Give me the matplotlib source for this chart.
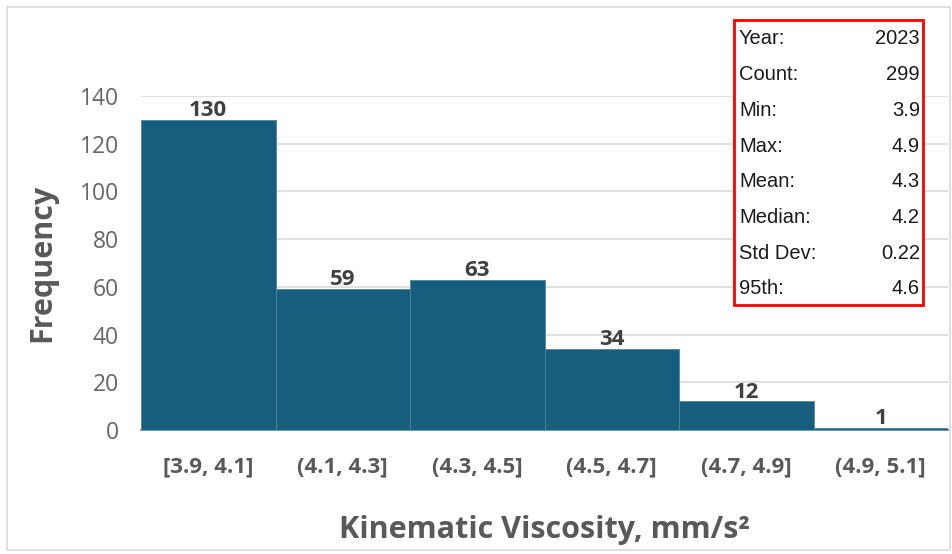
import matplotlib.pyplot as plt
from matplotlib.patches import Rectangle

bins = ['[3.9, 4.1]', '(4.1, 4.3]', '(4.3, 4.5]', '(4.5, 4.7]', '(4.7, 4.9]', '(4.9, 5.1]']
counts = [130, 59, 63, 34, 12, 1]
stat_names = ['Year:', 'Count:', 'Min:', 'Max:', 'Mean:', 'Median:', 'Std Dev:', '95th:']
stat_values = ['2023', '299', '3.9', '4.9', '4.3', '4.2', '0.22', '4.6']

bar_color = '#175e7e'
gray = '#595959'

fig = plt.figure(figsize=(9.52, 5.54), dpi=100)
fig.patches.append(Rectangle((7/952, 4/554), 943/952, 543/554, transform=fig.transFigure,
                             fill=False, edgecolor='#d9d9d9', linewidth=1.2))

ax = fig.add_axes([141/952, 1 - 430/554, 807/952, 334/554])
x = range(len(bins))
ax.bar(x, counts, width=1.0, align='edge', color=bar_color, edgecolor='#4f86a2', linewidth=0.6, zorder=3)
for xi, c in zip(x, counts):
    ax.text(xi + 0.5, c - 0.5, str(c), ha='center', va='bottom', fontsize=16,
            fontweight='bold', color='#404040', family='Open Sans', zorder=4)

ax.set_xlim(0, len(bins))
ax.set_ylim(0, 140)
ax.set_yticks(range(0, 141, 20))
ax.set_xticks([xi + 0.5 for xi in x])
ax.set_xticklabels(bins, fontsize=16, fontweight='bold', color=gray, family='Open Sans')
for lab in ax.get_yticklabels():
    lab.set_fontsize(16.5)
    lab.set_color('#666666')
    lab.set_family('Open Sans')
ax.tick_params(axis='both', length=0)
ax.tick_params(axis='x', pad=19)
ax.tick_params(axis='y', pad=16)
ax.grid(axis='y', color='#d9d9d9', linewidth=1.2, zorder=0)
for s in ['top', 'right', 'left']:
    ax.spines[s].set_visible(False)
ax.spines['bottom'].set_color('#4f86a2')
ax.spines['bottom'].set_linewidth(1.2)

ax.set_xlabel('Kinematic Viscosity, mm/s²', fontsize=22, fontweight='bold', color=gray,
              family='Open Sans', labelpad=27)
ax.set_ylabel('Frequency', fontsize=22, fontweight='bold', color=gray, family='Open Sans', labelpad=16)

# stats box
bx0, by0, bx1, by1 = 734/952, 1 - 305/554, 923/952, 1 - 20/554
fig.patches.append(Rectangle((bx0, by0), bx1 - bx0, by1 - by0, transform=fig.transFigure,
                             facecolor='white', edgecolor='#ff0000', linewidth=2, zorder=5))
for k, (n, v) in enumerate(zip(stat_names, stat_values)):
    yy = 1 - (39 + k * 35.7) / 554
    fig.text(739/952, yy, n, ha='left', va='center', fontsize=14.5, color='#1a1a1a',
             family='Liberation Sans', zorder=6)
    fig.text(920/952, yy, v, ha='right', va='center', fontsize=14.5, color='#1a1a1a',
             family='Liberation Sans', zorder=6)

fig.savefig('out.png', dpi=100)
